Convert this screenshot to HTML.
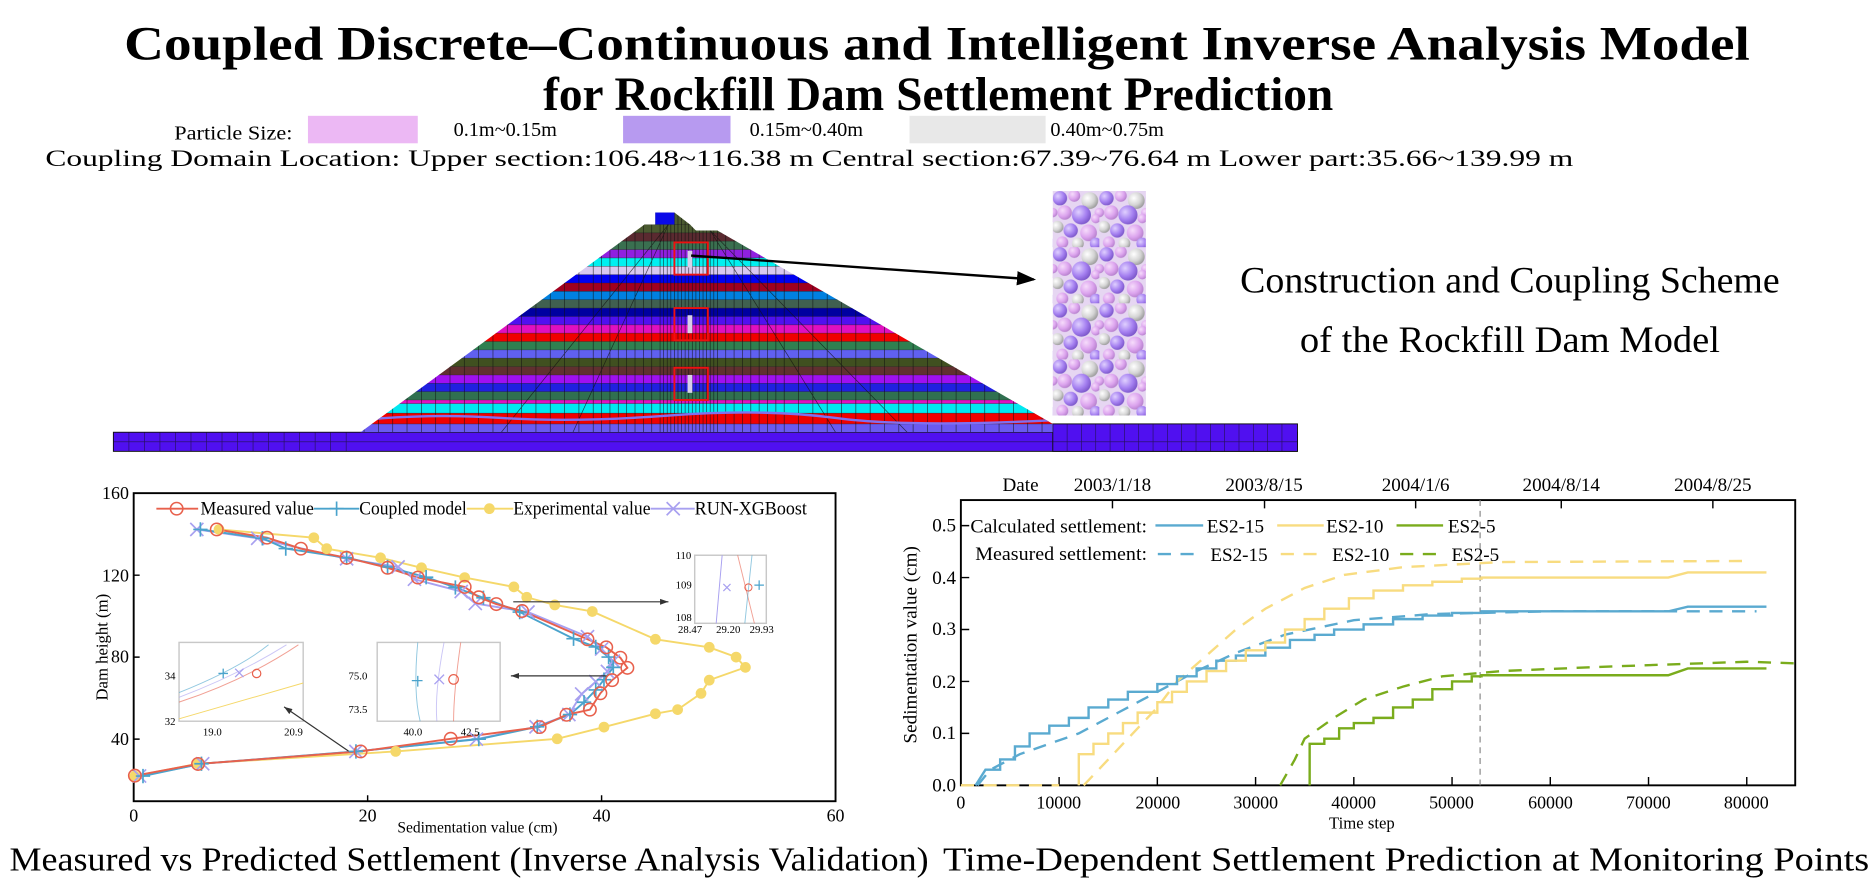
<!DOCTYPE html>
<html><head><meta charset="utf-8">
<style>
html,body{margin:0;padding:0;background:#fff;}
svg{display:block;}
text{font-family:"Liberation Serif",serif;fill:#000;}
</style></head>
<body>
<svg width="1874" height="886" viewBox="0 0 1570 742" preserveAspectRatio="none" xmlns="http://www.w3.org/2000/svg" xmlns:xlink="http://www.w3.org/1999/xlink">
<defs>
<clipPath id="damclip"><polygon points="302,362 540,188 549,188 549,178 565,178 578,188 583,193 601,193 882,355 882,362"/></clipPath>
<radialGradient id="gp" cx="35%" cy="35%" r="70%"><stop offset="0" stop-color="#f6dcfb"/><stop offset="0.6" stop-color="#dca4ee"/><stop offset="1" stop-color="#b57fcc"/></radialGradient>
<radialGradient id="gv" cx="35%" cy="35%" r="70%"><stop offset="0" stop-color="#e0d0ff"/><stop offset="0.6" stop-color="#a47ff0"/><stop offset="1" stop-color="#7a55c8"/></radialGradient>
<radialGradient id="gg" cx="35%" cy="35%" r="70%"><stop offset="0" stop-color="#ffffff"/><stop offset="0.6" stop-color="#d4d4d4"/><stop offset="1" stop-color="#9a9a9a"/></radialGradient>
<pattern id="balls" x="882" y="160" width="39" height="47" patternUnits="userSpaceOnUse">
<rect width="39" height="47" fill="#e6d6f2"/>
<circle cx="0" cy="18" r="4" fill="url(#gp)"/><circle cx="39" cy="18" r="4" fill="url(#gp)"/>
<circle cx="6" cy="6" r="6" fill="url(#gv)"/><circle cx="18" cy="4" r="5" fill="url(#gp)"/><circle cx="31" cy="8" r="7" fill="url(#gg)"/>
<circle cx="10" cy="18" r="6" fill="url(#gp)"/><circle cx="24" cy="20" r="8" fill="url(#gv)"/><circle cx="36" cy="23" r="4" fill="url(#gp)"/>
<circle cx="4" cy="30" r="5" fill="url(#gg)"/><circle cx="15" cy="33" r="6" fill="url(#gv)"/><circle cx="30" cy="35" r="7" fill="url(#gp)"/>
<circle cx="8" cy="43" r="5" fill="url(#gp)"/><circle cx="21" cy="44" r="5" fill="url(#gg)"/><circle cx="36" cy="44" r="5" fill="url(#gv)"/>
</pattern>
<marker id="ah" markerWidth="8" markerHeight="8" refX="7" refY="4" orient="auto"><path d="M0,1 L8,4 L0,7 z" fill="#000"/></marker>
<marker id="ah2" markerWidth="8" markerHeight="8" refX="7" refY="4" orient="auto"><path d="M0,1.5 L7,4 L0,6.5 z" fill="#333"/></marker>
<g id="mo"><circle r="5.2" fill="none" stroke="#e8604c" stroke-width="1.3"/></g>
<g id="mp"><path d="M-6,0h12M0,-6v12" stroke="#4aa3cc" stroke-width="1.4"/></g>
<g id="mx"><path d="M-5.5,-5.5l11,11M5.5,-5.5l-11,11" stroke="#a8a0f0" stroke-width="1.4"/></g>
<g id="my"><circle r="4.5" fill="#f5d86a"/></g>
</defs>

<!-- Titles -->
<text x="785" y="50" text-anchor="middle" font-size="40" font-weight="bold" textLength="1362" lengthAdjust="spacingAndGlyphs">Coupled Discrete–Continuous and Intelligent Inverse Analysis Model</text>
<text x="786" y="92" text-anchor="middle" font-size="40" font-weight="bold" textLength="662" lengthAdjust="spacingAndGlyphs">for Rockfill Dam Settlement Prediction</text>

<text x="146" y="117" font-size="17" textLength="99" lengthAdjust="spacingAndGlyphs">Particle Size:</text>
<rect x="258" y="97" width="92" height="23" fill="#ecb8f4"/>
<text x="380" y="114" font-size="17">0.1m~0.15m</text>
<rect x="522" y="97" width="90" height="23" fill="#b79af0"/>
<text x="628" y="114" font-size="17">0.15m~0.40m</text>
<rect x="762" y="97" width="114" height="23" fill="#e8e8e8"/>
<text x="880" y="114" font-size="17">0.40m~0.75m</text>
<text x="38" y="139" font-size="19" textLength="1280" lengthAdjust="spacingAndGlyphs">Coupling Domain Location: Upper section:106.48~116.38 m  Central section:67.39~76.64 m  Lower part:35.66~139.99 m</text>

<!-- Dam base -->
<rect x="95" y="362" width="992" height="16" fill="#5010f0" stroke="#111" stroke-width="0.8"/>
<rect x="882" y="355" width="205" height="23" fill="#5010f0" stroke="#111" stroke-width="0.8"/>
<path d="M108,362V378M121,362V378M134,362V378M147,362V378M160,362V378M173,362V378M186,362V378M199,362V378M212,362V378M225,362V378M238,362V378M251,362V378M264,362V378M277,362V378M290,362V378M894,355V378M906,355V378M918,355V378M930,355V378M942,355V378M954,355V378M966,355V378M978,355V378M990,355V378M1002,355V378M1014,355V378M1026,355V378M1038,355V378M1050,355V378M1062,355V378M1074,355V378M95,370H1087" stroke="#111" stroke-width="0.5" opacity="0.7"/>
<!-- Dam layers -->
<g clip-path="url(#damclip)">
<rect x="290" y="170" width="600" height="19" fill="#4a5a30"/>
<rect x="290" y="188" width="600" height="7.2" fill="#4a5a30"/>
<rect x="290" y="195" width="600" height="7.2" fill="#5a2a30"/>
<rect x="290" y="202" width="600" height="7.2" fill="#3a7050"/>
<rect x="290" y="209" width="600" height="7.2" fill="#9020e0"/>
<rect x="290" y="216" width="600" height="7.2" fill="#00f0f0"/>
<rect x="290" y="223" width="600" height="7.2" fill="#d8c8f0"/>
<rect x="290" y="230" width="600" height="7.2" fill="#0000f0"/>
<rect x="290" y="237" width="600" height="7.2" fill="#a00020"/>
<rect x="290" y="244" width="600" height="7.2" fill="#0080e0"/>
<rect x="290" y="251" width="600" height="7.2" fill="#406050"/>
<rect x="290" y="258" width="600" height="7.2" fill="#0000a0"/>
<rect x="290" y="265" width="600" height="7.2" fill="#5010f0"/>
<rect x="290" y="272" width="600" height="7.2" fill="#e010c0"/>
<rect x="290" y="279" width="600" height="7.2" fill="#f00000"/>
<rect x="290" y="286" width="600" height="7.2" fill="#308050"/>
<rect x="290" y="293" width="600" height="7.2" fill="#6060f0"/>
<rect x="290" y="300" width="600" height="7.2" fill="#405020"/>
<rect x="290" y="307" width="600" height="7.2" fill="#603030"/>
<rect x="290" y="314" width="600" height="7.2" fill="#a010f0"/>
<rect x="290" y="321" width="600" height="7.2" fill="#2020e0"/>
<rect x="290" y="328" width="600" height="7.2" fill="#307050"/>
<rect x="290" y="335" width="600" height="3.2" fill="#e010c0"/>
<rect x="290" y="338" width="600" height="8.2" fill="#00e8f0"/>
<rect x="290" y="346" width="600" height="9.2" fill="#f00000"/>
<rect x="290" y="355" width="600" height="8" fill="#6a5af0"/>
<path d="M290,188H890M290,195H890M290,202H890M290,209H890M290,216H890M290,223H890M290,230H890M290,237H890M290,244H890M290,251H890M290,258H890M290,265H890M290,272H890M290,279H890M290,286H890M290,293H890M290,300H890M290,307H890M290,314H890M290,321H890M290,328H890M290,335H890M290,338H890M290,346H890M290,355H890" stroke="#222" stroke-width="0.5" opacity="0.6"/>
<path d="M305,170V362M317,170V362M329,170V362M341,170V362M353,170V362M365,170V362M377,170V362M389,170V362M401,170V362M413,170V362M425,170V362M437,170V362M449,170V362M461,170V362M473,170V362M485,170V362M497,170V362M504,170V362M511,170V362M518,170V362M525,170V362M532,170V362M539,170V362M546,170V362M553,170V362M556,170V362M559,170V362M562,170V362M565,170V362M568,170V362M571,170V362M574,170V362M577,170V362M580,170V362M583,170V362M586,170V362M589,170V362M592,170V362M595,170V362M598,170V362M601,170V362M608,170V362M615,170V362M622,170V362M629,170V362M636,170V362M643,170V362M650,170V362M657,170V362M669,170V362M681,170V362M693,170V362M705,170V362M717,170V362M729,170V362M741,170V362M753,170V362M765,170V362M777,170V362M789,170V362M801,170V362M813,170V362M825,170V362M837,170V362M849,170V362M861,170V362M873,170V362M560,188L420,362M560,188L480,362M595,193L700,362M595,193L760,362" stroke="#111" stroke-width="0.6" opacity="0.7"/>
<path d="M300,352 Q360,346 420,350 T560,348 T700,350 T880,352" stroke="#8070f0" stroke-width="2" fill="none"/>
</g>
<rect x="549" y="178" width="16" height="10" fill="#0a0ae8"/>
<g fill="none" stroke="#ee1010" stroke-width="1.6">
<rect x="565" y="203" width="28" height="27"/>
<rect x="565" y="258" width="28" height="27"/>
<rect x="565" y="308" width="28" height="27"/>
</g>
<g fill="#d8d0e8"><rect x="576" y="210" width="4" height="14"/><rect x="576" y="264" width="4" height="15"/><rect x="576" y="314" width="4" height="15"/></g>
<line x1="579" y1="214" x2="866" y2="234" stroke="#000" stroke-width="2" marker-end="url(#ah)"/>
<rect x="882" y="160" width="78" height="188" fill="url(#balls)"/>

<text x="1265" y="245" text-anchor="middle" font-size="31" textLength="452" lengthAdjust="spacingAndGlyphs">Construction and Coupling Scheme</text>
<text x="1265" y="295" text-anchor="middle" font-size="31" textLength="352" lengthAdjust="spacingAndGlyphs">of the Rockfill Dam Model</text>

<!-- LEFT CHART -->
<rect x="112" y="413" width="588" height="258" fill="none" stroke="#000" stroke-width="1.6"/>
<g font-size="15" text-anchor="end">
<text x="108" y="418">160</text><text x="108" y="487">120</text><text x="108" y="555">80</text><text x="108" y="624">40</text>
</g>
<path d="M112,481.7h5M112,550.3h5M112,619h5M308,671v-5M504,671v-5" stroke="#000" stroke-width="1.2"/>
<g font-size="15" text-anchor="middle">
<text x="112" y="688">0</text><text x="308" y="688">20</text><text x="504" y="688">40</text><text x="700" y="688">60</text>
</g>
<text x="400" y="697" font-size="13" text-anchor="middle">Sedimentation value (cm)</text>
<text transform="translate(90,542) rotate(-90)" font-size="14" text-anchor="middle">Dam height  (m)</text>

<g fill="none" stroke-width="1.6">
<polyline stroke="#f5d86a" points="113,649.9 165.9,639.6 331.5,629.3 466.8,618.7 506,608.9 549.1,597.7 567.7,594.3 587.3,580.7 594.2,569.6 624.5,558.9 616.7,550.3 594.2,542.1 549.1,535.4 496.2,512.1 464.8,506.6 441.3,500.2 430.5,491.5 389.3,483.7 353.1,475.5 318.8,467.1 273.7,459.5 262.9,450.3 183.5,443.4"/>
<polyline stroke="#a8a0f0" points="116.9,649.9 169.8,639.6 298.2,629.3 399.1,619 449.1,608.7 476.6,598.4 487.3,581.2 499.1,570.9 508.9,562.3 513.8,553.7 504,543.5 492.2,533.2 442.3,512.6 398.2,505.4 386.4,495.4 347.2,485.1 333.5,474.8 290.4,468 215.9,450.8 164.9,443.4"/>
<polyline stroke="#4aa3cc" points="119.8,649.9 168.8,639.6 298.2,629.3 401.1,619 450.1,608.7 477.5,598.4 489.3,588.1 499.1,577.8 506,569.2 513.8,558.9 509.9,550.3 499.1,541.8 480.5,534.9 435.4,512.6 405,500.6 381.5,492 357,483.4 324.7,474.8 290.4,467.1 239.4,459.4 219.8,450.8 167.9,443.4"/>
<polyline stroke="#e8604c" points="113,649.6 165.9,639.8 302.1,629.3 377.6,618.7 452.1,608.9 474.6,598.6 494.2,594.3 503,580.6 512.8,569.6 525.6,559.3 519.7,550.8 507.9,542.1 492.2,535.4 437.4,511.7 415.8,505.9 401.1,500.2 389.3,491.5 350.1,483.7 324.7,475.5 290.4,467.1 252.1,459.5 223.7,450.3 181.6,443.4"/>
</g>
<g>
<use xlink:href="#my" x="113" y="649.9"/><use xlink:href="#my" x="165.9" y="639.6"/><use xlink:href="#my" x="331.5" y="629.3"/><use xlink:href="#my" x="466.8" y="618.7"/><use xlink:href="#my" x="506" y="608.9"/><use xlink:href="#my" x="549.1" y="597.7"/><use xlink:href="#my" x="567.7" y="594.3"/><use xlink:href="#my" x="587.3" y="580.7"/><use xlink:href="#my" x="594.2" y="569.6"/><use xlink:href="#my" x="624.5" y="558.9"/><use xlink:href="#my" x="616.7" y="550.3"/><use xlink:href="#my" x="594.2" y="542.1"/><use xlink:href="#my" x="549.1" y="535.4"/><use xlink:href="#my" x="496.2" y="512.1"/><use xlink:href="#my" x="464.8" y="506.6"/><use xlink:href="#my" x="441.3" y="500.2"/><use xlink:href="#my" x="430.5" y="491.5"/><use xlink:href="#my" x="389.3" y="483.7"/><use xlink:href="#my" x="353.1" y="475.5"/><use xlink:href="#my" x="318.8" y="467.1"/><use xlink:href="#my" x="273.7" y="459.5"/><use xlink:href="#my" x="262.9" y="450.3"/><use xlink:href="#my" x="183.5" y="443.4"/>
<use xlink:href="#mx" x="116.9" y="649.9"/><use xlink:href="#mx" x="169.8" y="639.6"/><use xlink:href="#mx" x="298.2" y="629.3"/><use xlink:href="#mx" x="399.1" y="619"/><use xlink:href="#mx" x="449.1" y="608.7"/><use xlink:href="#mx" x="476.6" y="598.4"/><use xlink:href="#mx" x="487.3" y="581.2"/><use xlink:href="#mx" x="499.1" y="570.9"/><use xlink:href="#mx" x="508.9" y="562.3"/><use xlink:href="#mx" x="513.8" y="553.7"/><use xlink:href="#mx" x="504" y="543.5"/><use xlink:href="#mx" x="492.2" y="533.2"/><use xlink:href="#mx" x="442.3" y="512.6"/><use xlink:href="#mx" x="398.2" y="505.4"/><use xlink:href="#mx" x="386.4" y="495.4"/><use xlink:href="#mx" x="347.2" y="485.1"/><use xlink:href="#mx" x="333.5" y="474.8"/><use xlink:href="#mx" x="290.4" y="468"/><use xlink:href="#mx" x="215.9" y="450.8"/><use xlink:href="#mx" x="164.9" y="443.4"/>
<use xlink:href="#mp" x="119.8" y="649.9"/><use xlink:href="#mp" x="168.8" y="639.6"/><use xlink:href="#mp" x="298.2" y="629.3"/><use xlink:href="#mp" x="401.1" y="619"/><use xlink:href="#mp" x="450.1" y="608.7"/><use xlink:href="#mp" x="477.5" y="598.4"/><use xlink:href="#mp" x="489.3" y="588.1"/><use xlink:href="#mp" x="499.1" y="577.8"/><use xlink:href="#mp" x="506" y="569.2"/><use xlink:href="#mp" x="513.8" y="558.9"/><use xlink:href="#mp" x="509.9" y="550.3"/><use xlink:href="#mp" x="499.1" y="541.8"/><use xlink:href="#mp" x="480.5" y="534.9"/><use xlink:href="#mp" x="435.4" y="512.6"/><use xlink:href="#mp" x="405" y="500.6"/><use xlink:href="#mp" x="381.5" y="492"/><use xlink:href="#mp" x="357" y="483.4"/><use xlink:href="#mp" x="324.7" y="474.8"/><use xlink:href="#mp" x="290.4" y="467.1"/><use xlink:href="#mp" x="239.4" y="459.4"/><use xlink:href="#mp" x="219.8" y="450.8"/><use xlink:href="#mp" x="167.9" y="443.4"/>
<use xlink:href="#mo" x="113" y="649.6"/><use xlink:href="#mo" x="165.9" y="639.8"/><use xlink:href="#mo" x="302.1" y="629.3"/><use xlink:href="#mo" x="377.6" y="618.7"/><use xlink:href="#mo" x="452.1" y="608.9"/><use xlink:href="#mo" x="474.6" y="598.6"/><use xlink:href="#mo" x="494.2" y="594.3"/><use xlink:href="#mo" x="503" y="580.6"/><use xlink:href="#mo" x="512.8" y="569.6"/><use xlink:href="#mo" x="525.6" y="559.3"/><use xlink:href="#mo" x="519.7" y="550.8"/><use xlink:href="#mo" x="507.9" y="542.1"/><use xlink:href="#mo" x="492.2" y="535.4"/><use xlink:href="#mo" x="437.4" y="511.7"/><use xlink:href="#mo" x="415.8" y="505.9"/><use xlink:href="#mo" x="401.1" y="500.2"/><use xlink:href="#mo" x="389.3" y="491.5"/><use xlink:href="#mo" x="350.1" y="483.7"/><use xlink:href="#mo" x="324.7" y="475.5"/><use xlink:href="#mo" x="290.4" y="467.1"/><use xlink:href="#mo" x="252.1" y="459.5"/><use xlink:href="#mo" x="223.7" y="450.3"/><use xlink:href="#mo" x="181.6" y="443.4"/>
</g>

<!-- left legend -->
<g font-size="16">
<line x1="131" y1="426" x2="166" y2="426" stroke="#e8604c" stroke-width="1.5"/><use xlink:href="#mo" x="148" y="426"/>
<text x="168" y="431" textLength="95" lengthAdjust="spacingAndGlyphs">Measured value</text>
<line x1="263" y1="426" x2="301" y2="426" stroke="#4aa3cc" stroke-width="1.5"/><use xlink:href="#mp" x="282" y="426"/>
<text x="301" y="431" textLength="90" lengthAdjust="spacingAndGlyphs">Coupled model</text>
<line x1="391" y1="426" x2="430" y2="426" stroke="#f5d86a" stroke-width="1.5"/><use xlink:href="#my" x="410" y="426"/>
<text x="430" y="431" textLength="115" lengthAdjust="spacingAndGlyphs">Experimental value</text>
<line x1="545" y1="426" x2="582" y2="426" stroke="#a8a0f0" stroke-width="1.5"/><use xlink:href="#mx" x="564" y="426"/>
<text x="582" y="431" textLength="94" lengthAdjust="spacingAndGlyphs">RUN-XGBoost</text>
</g>
<!-- insets -->
<g fill="#fff" stroke="#c8c8c8" stroke-width="1.2">
<rect x="582" y="465" width="60" height="57"/>
<rect x="150" y="538" width="104" height="66"/>
<rect x="316" y="538" width="103" height="66"/>
</g>
<g stroke-width="0.8" fill="none">
<path d="M605,465 L600,522" stroke="#a8a0f0"/><path d="M618,465 L632,522" stroke="#e8604c" opacity="0.6"/><path d="M630,465 L624,522" stroke="#4aa3cc" opacity="0.6"/>
<path d="M606,489 l6,6 M612,489 l-6,6" stroke="#a8a0f0" stroke-width="1"/><circle cx="627" cy="492" r="3" stroke="#e8604c"/><path d="M636,486 v8 M632,490 h8" stroke="#4aa3cc" stroke-width="1"/>
<path d="M150,580 Q200,560 225,540" stroke="#4aa3cc" opacity="0.6"/><path d="M150,584 Q200,565 240,540" stroke="#a8a0f0" opacity="0.6"/><path d="M150,588 Q205,570 250,540" stroke="#e8604c" opacity="0.6"/><path d="M150,602 L254,572" stroke="#f5d86a"/>
<path d="M187,560 v8 M183,564 h8" stroke="#4aa3cc" stroke-width="1.1"/><path d="M197,560 l7,7 M204,560 l-7,7" stroke="#a8a0f0" stroke-width="1.1"/><circle cx="215" cy="564" r="3.5" stroke="#e8604c" stroke-width="1"/>
<path d="M350,538 Q346,580 352,604" stroke="#4aa3cc" opacity="0.6"/><path d="M372,538 Q364,580 366,604" stroke="#a8a0f0" opacity="0.6"/><path d="M386,538 Q380,580 380,604" stroke="#e8604c" opacity="0.6"/>
<path d="M350,566 v9 M345,570 h9" stroke="#4aa3cc" stroke-width="1.1"/><path d="M364,565 l8,8 M372,565 l-8,8" stroke="#a8a0f0" stroke-width="1.1"/><circle cx="380" cy="569" r="4" stroke="#e8604c" stroke-width="1"/>
</g>
<g font-size="9">
<text x="566" y="468">110</text><text x="566" y="493">109</text><text x="566" y="520">108</text>
<text x="568" y="530">28.47</text><text x="600" y="530">29.20</text><text x="628" y="530">29.93</text>
<text x="138" y="569">34</text><text x="138" y="607">32</text><text x="170" y="616">19.0</text><text x="238" y="616">20.9</text>
<text x="292" y="569">75.0</text><text x="292" y="597">73.5</text><text x="338" y="616">40.0</text><text x="386" y="616">42.5</text>
</g>
<g stroke="#333" stroke-width="1" fill="none">
<line x1="430" y1="504" x2="560" y2="504" marker-end="url(#ah2)"/>
<line x1="508" y1="566" x2="428" y2="566" marker-end="url(#ah2)"/>
<line x1="292" y1="629" x2="238" y2="592" marker-end="url(#ah2)"/>
</g>

<!-- RIGHT CHART -->
<rect x="805" y="418.8" width="699" height="238.9" fill="none" stroke="#000" stroke-width="1.6"/>
<path d="M887.3,657.7v-7M969.6,657.7v-7M1051.9,657.7v-7M1134.2,657.7v-7M1216.5,657.7v-7M1298.8,657.7v-7M1381.1,657.7v-7M1463.4,657.7v-7M805,614.2h7M805,570.7h7M805,527.2h7M805,483.7h7M805,440.2h7M932,418.8v7M1059.4,418.8v7M1186,418.8v7M1308,418.8v7M1435,418.8v7" stroke="#000" stroke-width="1.2"/>
<g font-size="16" text-anchor="end">
<text x="801" y="445">0.5</text><text x="801" y="489">0.4</text><text x="801" y="532">0.3</text><text x="801" y="576">0.2</text><text x="801" y="619">0.1</text><text x="801" y="663">0.0</text>
</g>
<g font-size="15" text-anchor="middle">
<text x="805" y="677">0</text><text x="887" y="677">10000</text><text x="970" y="677">20000</text><text x="1052" y="677">30000</text><text x="1134" y="677">40000</text><text x="1216" y="677">50000</text><text x="1299" y="677">60000</text><text x="1381" y="677">70000</text><text x="1463" y="677">80000</text>
</g>
<text x="1141" y="694" font-size="14" text-anchor="middle">Time step</text>
<text transform="translate(768,540) rotate(-90)" font-size="16" text-anchor="middle">Sedimentation value (cm)</text>
<g font-size="16" text-anchor="middle">
<text x="855" y="411">Date</text><text x="932" y="411">2003/1/18</text><text x="1059" y="411">2003/8/15</text><text x="1186" y="411">2004/1/6</text><text x="1308" y="411">2004/8/14</text><text x="1435" y="411">2004/8/25</text>
</g>
<line x1="1240" y1="418.8" x2="1240" y2="657.7" stroke="#888" stroke-width="1" stroke-dasharray="5,4"/>
<g fill="none" stroke-width="2">
<path stroke="#f8dc80" stroke-dasharray="11,8" d="M805,657.7 L887.3,657.7"/>
<path stroke="#5aaad0" stroke-dasharray="11,8" d="M819,657.7 L829.7,644.6 L854.4,631.6 L903.8,614.2 L936.7,596.8 L969.6,579.4 L1002.5,562 L1035.4,546.8 L1076.6,531.5 L1134.2,519.4 L1200,514.2 L1298.8,512 L1471.6,512"/>
<path stroke="#f8dc80" stroke-dasharray="11,8" d="M907.9,657.7 L928.5,636 L953.1,609.9 L969.6,592.5 L986.1,570.7 L1010.8,549 L1035.4,527.2 L1060.1,509.8 L1093,492.4 L1126,481.5 L1175.4,475 L1257.7,470.7 L1463.4,469.8"/>
<path stroke="#7aac1c" stroke-dasharray="11,8" d="M1072.5,657.7 L1084.8,636 L1093,618.6 L1117.7,601.1 L1142.4,585.9 L1175.4,575 L1208.3,566.4 L1257.7,562 L1339.9,558.5 L1463.4,554.2 L1504,555.5"/>
<path stroke="#5aaad0" d="M817.3,657.7 L825.6,644.6 H837.9V636 H850.3V625.1 H862.6V614.2 H879.1V607.7 H895.5V601.2 H912V592.5 H928.5V585.9 H944.9V579.4 H969.6V572.9 H986.1V566.4 H1002.5V559.8 H1019V553.3 H1035.4V549 H1060.1V542.4 H1080.7V535.9 H1101.3V531.6 H1117.7V527.2 H1142.4V522.9 H1167.1V518.5 H1191.8V515.5 H1216.5V513.3 H1241.2V512 H1397.6 L1414,508.1 H1479.9"/>
<path stroke="#f8dc80" d="M903.8,657.7 V631.6 H916.1V622.9 H928.5V614.2 H940.8V605.5 H953.1V596.8 H969.6V588.1 H981.9V579.4 H994.3V570.7 H1010.8V562 H1027.2V553.3 H1043.7V544.6 H1060.1V538.1 H1076.6V527.2 H1093V518.5 H1109.5V509.8 H1130.1V501.1 H1150.7V494.6 H1175.4V490.2 H1200V487.2 H1224.7V484.6 H1241.2V483.7 H1397.6 L1414,479.4 H1479.9"/>
<path stroke="#7aac1c" d="M1097.2,657.7 V622.9 H1109.5V618.6 H1121.9V609.9 H1134.2V605.5 H1150.7V601.2 H1167.1V592.5 H1183.6V585.9 H1200V577.2 H1216.5V570.7 H1233V566.4 H1241.2V565.5 H1397.6 L1414,559.8 H1479.9"/>
</g>
<!-- right legend -->
<g font-size="16">
<text x="813" y="446" textLength="148" lengthAdjust="spacingAndGlyphs">Calculated settlement:</text>
<line x1="968" y1="440" x2="1008" y2="440" stroke="#5aaad0" stroke-width="2"/><text x="1011" y="446">ES2-15</text>
<line x1="1070" y1="440" x2="1109" y2="440" stroke="#f8dc80" stroke-width="2"/><text x="1111" y="446">ES2-10</text>
<line x1="1170" y1="440" x2="1209" y2="440" stroke="#7aac1c" stroke-width="2"/><text x="1213" y="446">ES2-5</text>
<text x="817" y="469" textLength="144" lengthAdjust="spacingAndGlyphs">Measured settlement:</text>
<line x1="970" y1="464" x2="1008" y2="464" stroke="#5aaad0" stroke-width="2" stroke-dasharray="11,8"/><text x="1014" y="470">ES2-15</text>
<line x1="1073" y1="464" x2="1111" y2="464" stroke="#f8dc80" stroke-width="2" stroke-dasharray="11,8"/><text x="1116" y="470">ES2-10</text>
<line x1="1173" y1="464" x2="1211" y2="464" stroke="#7aac1c" stroke-width="2" stroke-dasharray="11,8"/><text x="1216" y="470">ES2-5</text>
</g>

<text x="8" y="729" font-size="28" textLength="770" lengthAdjust="spacingAndGlyphs">Measured vs Predicted Settlement (Inverse Analysis Validation)</text>
<text x="790" y="729" font-size="28" textLength="776" lengthAdjust="spacingAndGlyphs">Time-Dependent Settlement Prediction at Monitoring Points</text>
</svg>
</body></html>
